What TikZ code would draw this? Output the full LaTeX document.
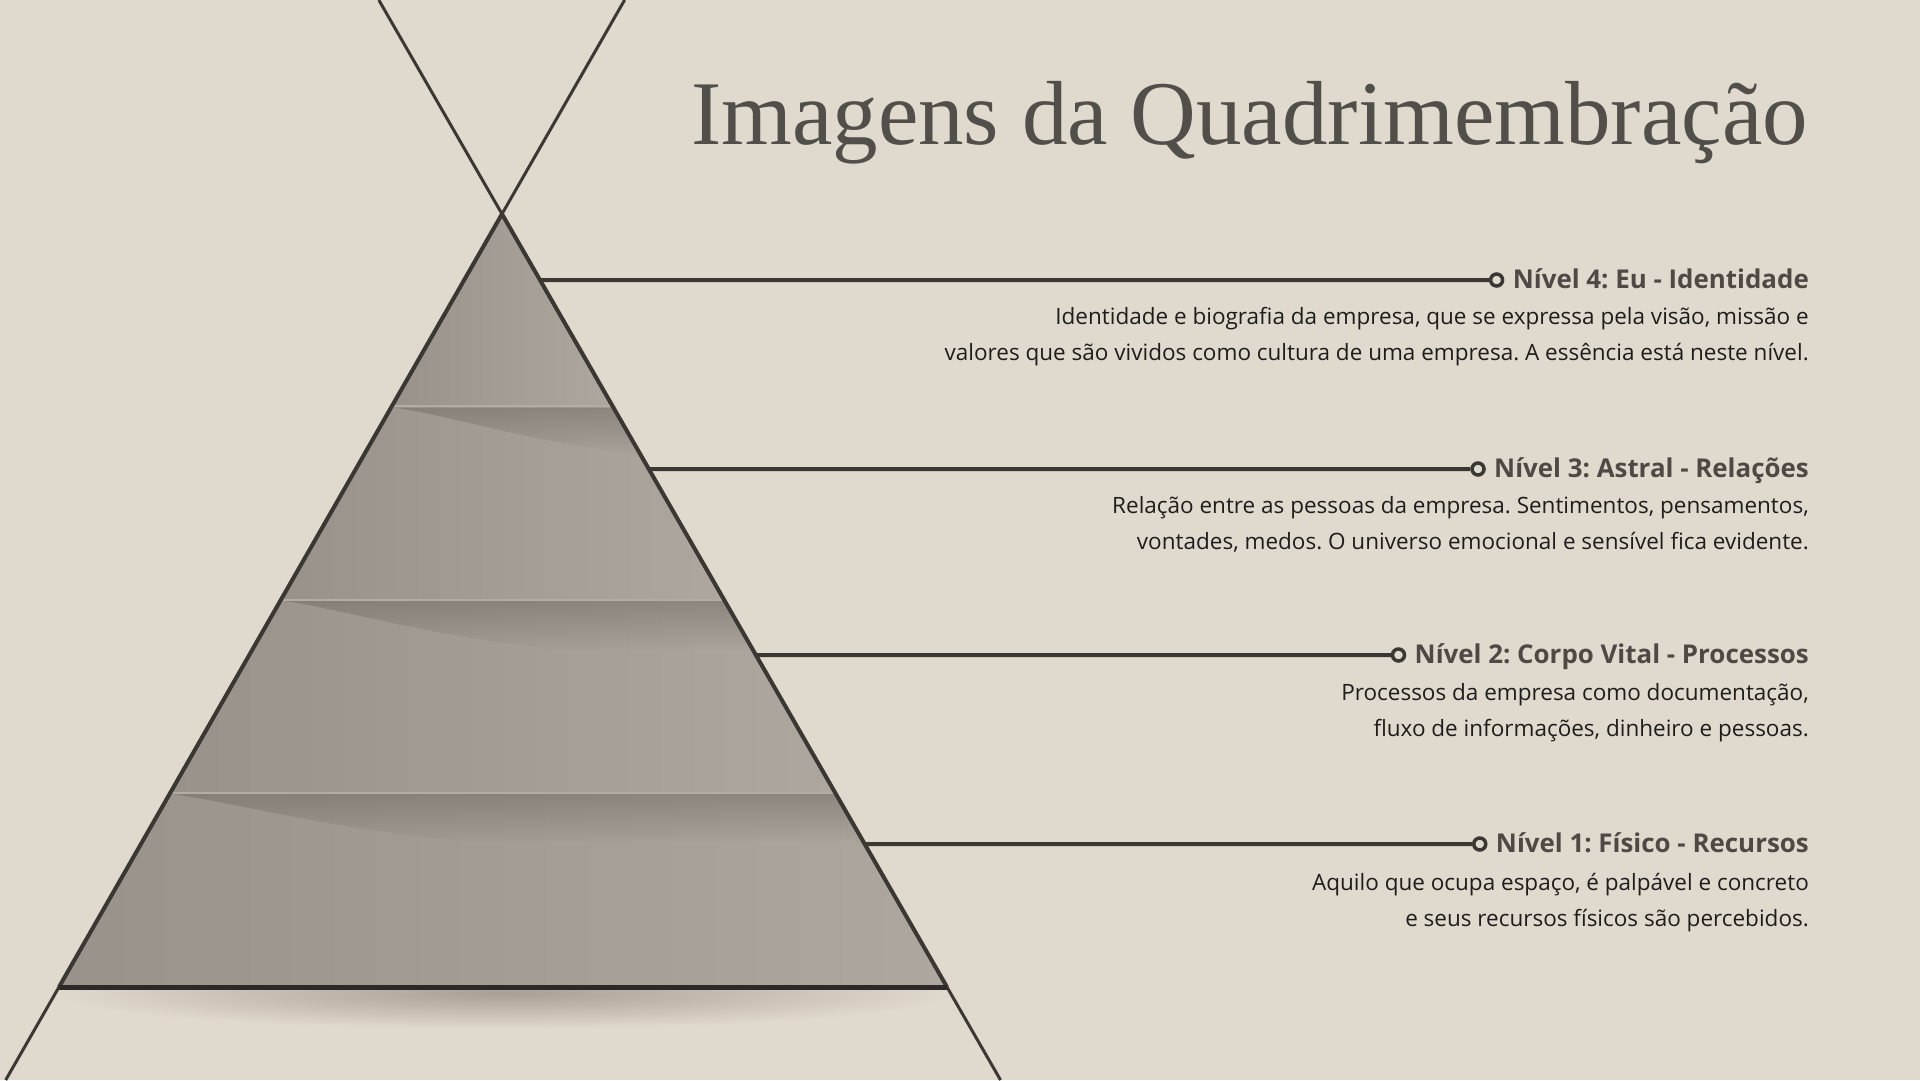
\documentclass[tikz,border=0pt]{standalone}
\usepackage{fontspec}
\setmainfont{Open Sans}
\newfontfamily\titlefont{Liberation Serif}
\usetikzlibrary{calc,fadings}
\frenchspacing
\definecolor{bg}{HTML}{E0D9CE}
\definecolor{ink}{HTML}{3B3733}
\definecolor{basec}{HTML}{2C2926}
\definecolor{titlec}{HTML}{524E49}
\definecolor{headc}{HTML}{4E4944}
\definecolor{bodyc}{HTML}{1F1D1B}
\definecolor{tierL}{HTML}{98928B}
\definecolor{tierR}{HTML}{ADA79F}
\definecolor{shadowc}{HTML}{A8A095}
\definecolor{shadedark}{HTML}{6A645D}
\definecolor{sepc}{HTML}{B2ACA4}
\tikzset{
  xline/.style={draw=ink, line width=3pt},
  sideline/.style={draw=ink, line width=4pt},
  baseedge/.style={draw=basec, line width=5pt, line cap=butt},
  lead/.style={draw=ink, line width=4pt},
  dot/.style={circle, draw=ink, line width=3.5pt, fill=bg, inner sep=0pt, minimum size=12pt},
  head/.style={inner sep=0pt, text=headc, font=\bfseries\fontsize{25.9}{30}\selectfont},
  bodytext/.style={inner sep=0pt, text=bodyc, align=right, font=\fontsize{22.5}{35.5}\selectfont},
  titlestyle/.style={inner sep=0pt, text=titlec, font=\titlefont\fontsize{91}{91}\selectfont},
  tierfill/.style={left color=tierL, right color=tierR},
  tshadow/.style={fill=shadedark, fill opacity=0.45, path fading=south},
  sepline/.style={draw=sepc, line width=2pt}
}
\begin{document}
\begin{tikzpicture}[x=1pt,y=-1pt]
\useasboundingbox (0,0) rectangle (1920,1080);
\fill[bg] (0,0) rectangle (1920,1080);

% key points
\coordinate (A) at (502,214);
\coordinate (BL) at (59,987);
\coordinate (BR) at (947,987);
\coordinate (T1) at (378.8,0);
\coordinate (E1) at (1000.5,1080);
\coordinate (T2) at (624.6,0);
\coordinate (E2) at (5.7,1080);
\foreach \k in {1,2,3}{
  \coordinate (L\k) at ($(A)!\k/4!(BL)$);
  \coordinate (R\k) at ($(A)!\k/4!(BR)$);
}

% soft shadow under the base
\shade[inner color=shadowc, outer color=bg] (503,993) ellipse [x radius=450, y radius=36];

% tiers
\shade[tierfill] (A) -- (R1) -- (L1) -- cycle;
\shade[tierfill] (L1) -- (R1) -- (R2) -- (L2) -- cycle;
\shade[tierfill] (L2) -- (R2) -- (R3) -- (L3) -- cycle;
\shade[tierfill] (L3) -- (R3) -- (BR) -- (BL) -- cycle;

% shadows cast by upper tiers
\begin{scope}
\clip (L1) -- (R1) -- (R2) -- (L2) -- cycle;
\fill[tshadow] (391.25,407.25) .. controls (450,415) and (520,440) .. (640,455) -- (740,455) -- (740,407.25) -- cycle;
\end{scope}
\begin{scope}
\clip (L2) -- (R2) -- (R3) -- (L3) -- cycle;
\fill[tshadow] (280.5,600.5) .. controls (340,608) and (420,635) .. (560,650) -- (850,650) -- (850,600.5) -- cycle;
\end{scope}
\begin{scope}
\clip (L3) -- (R3) -- (BR) -- (BL) -- cycle;
\fill[tshadow] (169.75,793.75) .. controls (230,801) and (320,828) .. (480,843) -- (960,843) -- (960,793.75) -- cycle;
\end{scope}
\foreach \k in {1,2,3}{
  \draw[sepline] ([yshift=1pt]L\k) -- ([yshift=1pt]R\k);
}

% crossing lines and triangle edges
\draw[xline] (T1) -- (E1);
\draw[xline] (T2) -- (E2);
\draw[sideline] (A) -- (BR);
\draw[sideline] (A) -- (BL);
\draw[baseedge] (BL) -- (BR);

% title
\node[titlestyle, anchor=base east] (title) at (1808,144) {Imagens da Quadrimembração};

% level 4
\coordinate (s4) at ($(A)!0.0854!(BR)$);
\coordinate (y4) at (0,280);
\node[head, anchor=base east] (h4) at (1809,288) {Nível 4: Eu - Identidade};
\coordinate (hw4) at ([xshift=-16pt]h4.west);
\node[dot] (c4) at (hw4 |- y4) {};
\draw[lead] (s4) -- (c4);
\node[bodytext, anchor=base east] (b4) at (1809,360) {Identidade e biografia da empresa, que se expressa pela visão, missão e\\valores que são vividos como cultura de uma empresa. A essência está neste nível.};

% level 3
\coordinate (s3) at ($(A)!0.3299!(BR)$);
\coordinate (y3) at (0,469);
\node[head, anchor=base east] (h3) at (1809,477) {Nível 3: Astral - Relações};
\coordinate (hw3) at ([xshift=-16pt]h3.west);
\node[dot] (c3) at (hw3 |- y3) {};
\draw[lead] (s3) -- (c3);
\node[bodytext, anchor=base east] (b3) at (1809,549) {Relação entre as pessoas da empresa. Sentimentos, pensamentos,\\vontades, medos. O universo emocional e sensível fica evidente.};

% level 2
\coordinate (s2) at ($(A)!0.5705!(BR)$);
\coordinate (y2) at (0,655);
\node[head, anchor=base east] (h2) at (1809,663) {Nível 2: Corpo Vital - Processos};
\coordinate (hw2) at ([xshift=-16pt]h2.west);
\node[dot] (c2) at (hw2 |- y2) {};
\draw[lead] (s2) -- (c2);
\node[bodytext, anchor=base east] (b2) at (1809,736) {Processos da empresa como documentação,\\fluxo de informações, dinheiro e pessoas.};

% level 1
\coordinate (s1) at ($(A)!0.815!(BR)$);
\coordinate (y1) at (0,844);
\node[head, anchor=base east] (h1) at (1809,852) {Nível 1: Físico - Recursos};
\coordinate (hw1) at ([xshift=-16pt]h1.west);
\node[dot] (c1) at (hw1 |- y1) {};
\draw[lead] (s1) -- (c1);
\node[bodytext, anchor=base east] (b1) at (1809,926) {Aquilo que ocupa espaço, é palpável e concreto\\e seus recursos físicos são percebidos.};
\end{tikzpicture}
\end{document}
